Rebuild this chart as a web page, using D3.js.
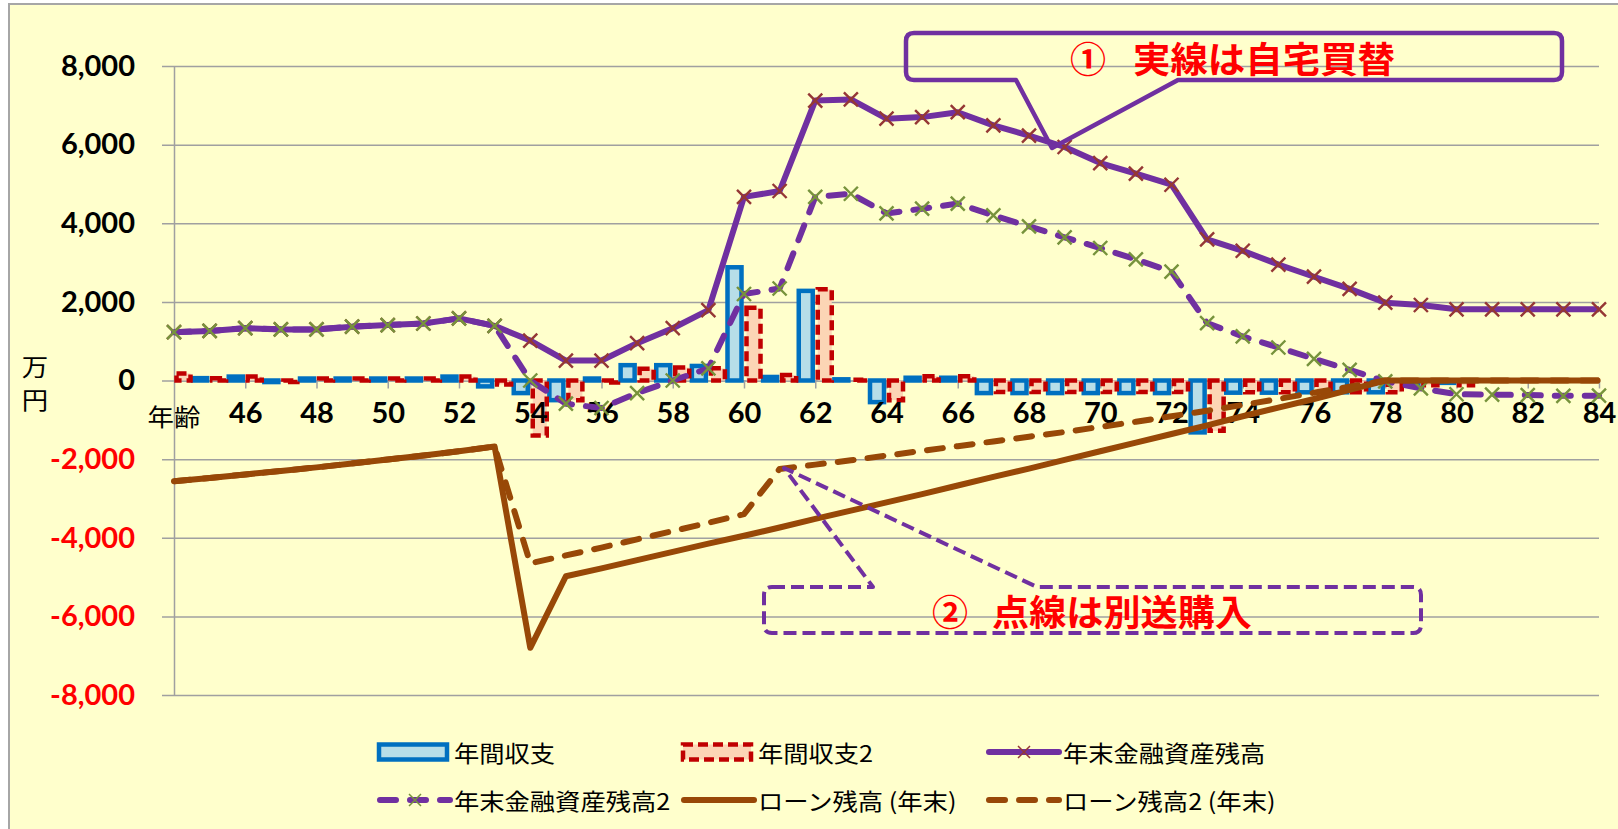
<!DOCTYPE html>
<html>
<head>
<meta charset="utf-8">
<script src="https://cdn.jsdelivr.net/npm/d3@7"></script>
<style>
  html, body { margin: 0; padding: 0; background: #ffffff; }
  svg { display: block; }
</style>
</head>
<body>
<svg id="chart" width="1618" height="829"></svg>
<script>
// ---- data (単位: 万円) ----
const ages = [44, 45, 46, 47, 48, 49, 50, 51, 52, 53,
              54, 55, 56, 57, 58, 59, 60, 61, 62, 63,
              64, 65, 66, 67, 68, 69, 70, 71, 72, 73,
              74, 75, 76, 77, 78, 79, 80, 81, 82, 83, 84];

// 年間収支
const annualBalance = [150, 60, 100, -40, 50, 50, 50, 50, 100, -150,
                       -320, -500, 50, 390, 390, 370, 2880, 90, 2280, 30,
                       -550, 70, 70, -320, -320, -320, -320, -320, -320, -1320,
                       -310, -310, -300, -300, -300, -60, -60, 0, 0, 0, 0];
// 年間収支2
const annualBalance2 = [180, 60, 100, -40, 50, 50, 50, 50, 100, -100,
                        -1400, -500, -50, 300, 330, 310, 1850, 140, 2320, 20,
                        -500, 110, 110, -290, -290, -290, -290, -290, -290, -1280,
                        -300, -300, -300, -300, -300, -120, -120, 0, 0, 0, 0];
// 年末金融資産残高
const assets = [1230, 1260, 1330, 1300, 1300, 1370, 1410, 1450, 1580, 1390,
                1015, 507, 507, 950, 1330, 1790, 4670, 4820, 7120, 7150,
                6660, 6700, 6825, 6490, 6230, 5940, 5530, 5260, 4980, 3590,
                3300, 2950, 2640, 2330, 1980, 1920, 1810, 1810, 1810, 1810, 1810];
// 年末金融資産残高2
const assets2 = [1230, 1260, 1330, 1300, 1300, 1370, 1410, 1450, 1580, 1390,
                 0, -590, -700, -320, 0, 310, 2200, 2340, 4670, 4750,
                 4250, 4370, 4500, 4200, 3920, 3640, 3370, 3080, 2770, 1460,
                 1120, 840, 550, 270, -20, -200, -350, -360, -370, -390, -385];
// ローン残高 (年末)
const loan = [-2560, -2480, -2390, -2300, -2210, -2110, -2010, -1910, -1800, -1680,
              -6800, -4980, -4780, -4570, -4360, -4150, -3950, -3740, -3520, -3310,
              -3100, -2890, -2670, -2450, -2240, -2020, -1800, -1580, -1360, -1140,
              -910, -690, -470, -240, 0, 0, 0, 0, 0, 0, 0];
// ローン残高2 (年末)
const loan2 = [-2560, -2480, -2390, -2300, -2210, -2110, -2010, -1910, -1800, -1680,
               -4650, -4450, -4250, -4040, -3830, -3620, -3400, -2250, -2140, -2030,
               -1910, -1790, -1670, -1550, -1430, -1310, -1180, -1050, -910, -770,
               -620, -470, -310, -160, 0, 0, 0, 0, 0, 0, 0];

const yTicks = [-8000, -6000, -4000, -2000, 0, 2000, 4000, 6000, 8000];
const xTickAges = [46, 48, 50, 52, 54, 56, 58, 60, 62, 64, 66, 68, 70, 72, 74, 76, 78, 80, 82, 84];
const seriesNames = ["年間収支", "年間収支2", "年末金融資産残高", "年末金融資産残高2", "ローン残高 (年末)", "ローン残高2 (年末)"];
const callout1Text = ["①", "実線は自宅買替"];
const callout2Text = ["②", "点線は別送購入"];

// ---- styling ----
const CJK = '"Noto Sans CJK JP", "Noto Sans", sans-serif';
const NUM = 'Lato, "Open Sans", sans-serif';
const SX = 1.1;            // horizontal stretch of the CJK lettering
const PURPLE = "#7030A0", BROWN = "#984807";
const BLUE = "#0070C0", BLUE_FILL = "#B7DEE8";
const RED = "#C00000", RED_FILL = "#FCD5B5";
const MARK1 = "#953735", MARK2 = "#77933C";
const GRID = "#A0A0A0";
const LINE_DASH = "16,14";

const svg = d3.select("#chart");
const W = 1618, H = 829;
const plot = { left: 174, right: 1599, top: 66, bottom: 695 };

const x = d3.scalePoint().domain(ages).range([plot.left, plot.right]);
const y = d3.scaleLinear().domain([-8000, 8000]).range([plot.bottom, plot.top]);

// chart area
svg.append("rect").attr("x", 9).attr("y", 4).attr("width", W + 20).attr("height", H + 20)
  .attr("fill", "#FFFFCC").attr("stroke", "#A6A6A6").attr("stroke-width", 2);

const defs = svg.append("defs");
defs.append("clipPath").attr("id", "plotClip")
  .append("rect").attr("x", plot.left).attr("y", 0)
  .attr("width", plot.right - plot.left).attr("height", H);

function stretchedText(parent, px, py, str, opt) {
  const sx = opt.sx || SX;
  const t = parent.append("text")
    .attr("transform", `translate(${px},${py}) scale(${sx},1)`)
    .attr("text-anchor", opt.anchor || "start")
    .attr("dominant-baseline", "central")
    .attr("font-family", opt.family || CJK)
    .attr("font-size", opt.size)
    .attr("font-weight", opt.weight || 400)
    .attr("fill", opt.fill || "#000")
    .text(str);
  if (opt.fit) {
    t.attr("textLength", opt.fit / sx).attr("lengthAdjust", "spacingAndGlyphs");
  }
  return t;
}

// horizontal gridlines
const grid = svg.append("g").attr("transform", `translate(${plot.left - 12},0)`)
  .call(d3.axisRight(y).tickValues(yTicks).tickSize(plot.right - plot.left + 12).tickFormat(""));
grid.select(".domain").remove();
grid.selectAll("line").attr("stroke", GRID).attr("stroke-width", 1.5);

// value axis
const fmt = d => (d < 0 ? "-" : "") + d3.format(",")(Math.abs(d));
const yAxis = svg.append("g").attr("transform", `translate(${plot.left},0)`)
  .call(d3.axisLeft(y).tickValues(yTicks).tickSize(0).tickSizeOuter(0).tickPadding(39).tickFormat(fmt));
yAxis.select(".domain").attr("stroke", GRID).attr("stroke-width", 1.5);
yAxis.selectAll("text")
  .attr("font-family", NUM).attr("font-size", 29).attr("font-weight", 700)
  .attr("fill", d => d < 0 ? "#FF0000" : "#000000");

// category axis line and tick marks on the zero line
const xAxisLine = svg.append("g").attr("transform", `translate(0,${y(0)})`)
  .call(d3.axisBottom(x).tickValues(xTickAges).tickSize(8).tickSizeOuter(0).tickFormat(""));
xAxisLine.select(".domain").attr("stroke", GRID).attr("stroke-width", 1.5);
xAxisLine.selectAll(".tick line").attr("stroke", GRID).attr("stroke-width", 1.5);

// ---- columns ----
const bars = svg.append("g").attr("clip-path", "url(#plotClip)");
const barW = 14;
function drawBars(values, offset, fill, stroke, dash) {
  bars.append("g").selectAll("rect")
    .data(ages.map((a, i) => ({ a, v: values[i] })).filter(d => d.v !== 0))
    .join("rect")
    .attr("x", d => x(d.a) + offset)
    .attr("y", d => Math.min(y(d.v), y(0)))
    .attr("width", barW)
    .attr("height", d => Math.abs(y(d.v) - y(0)))
    .attr("fill", fill)
    .attr("stroke", stroke)
    .attr("stroke-width", 4.5)
    .attr("stroke-dasharray", dash);
}
drawBars(annualBalance, -16.5, BLUE_FILL, BLUE, null);
drawBars(annualBalance2, 2.5, RED_FILL, RED, "10,5");

// category labels above the columns
const xLabels = svg.append("g").attr("transform", `translate(0,${y(0)})`)
  .call(d3.axisBottom(x).tickValues(xTickAges).tickSize(0).tickPadding(22));
xLabels.select(".domain").remove();
xLabels.selectAll("text")
  .attr("font-family", NUM).attr("font-size", 29).attr("font-weight", 700).attr("fill", "#000");

// axis titles
stretchedText(svg, x(44), 416, "年齢", { size: 24, anchor: "middle" });
stretchedText(svg, 35, 366, "万", { size: 24, anchor: "middle" });
stretchedText(svg, 35, 399, "円", { size: 24, anchor: "middle" });

// ---- lines ----
const lineGen = d3.line().x(d => x(d.a)).y(d => y(d.v));
function drawLine(values, color, dash) {
  svg.append("path")
    .datum(ages.map((a, i) => ({ a, v: values[i] })))
    .attr("d", lineGen)
    .attr("fill", "none")
    .attr("stroke", color)
    .attr("stroke-width", 6)
    .attr("stroke-linejoin", "round")
    .attr("stroke-linecap", dash ? "round" : "butt")
    .attr("stroke-dasharray", dash);
}
const crossPath = s => `M${-s},${-s}L${s},${s}M${-s},${s}L${s},${-s}`;
function drawMarkers(values, color) {
  svg.append("g").selectAll("path")
    .data(ages.map((a, i) => ({ a, v: values[i] })))
    .join("path")
    .attr("transform", d => `translate(${x(d.a)},${y(d.v)})`)
    .attr("d", crossPath(7))
    .attr("stroke", color)
    .attr("stroke-width", 2.4)
    .attr("fill", "none");
}
drawLine(assets, PURPLE, null);
drawMarkers(assets, MARK1);
drawLine(assets2, PURPLE, LINE_DASH);
drawMarkers(assets2, MARK2);
drawLine(loan, BROWN, null);
drawLine(loan2, BROWN, LINE_DASH);

// ---- callouts ----
// ① solid callout, wedge pointing at the 69-year value of the solid asset line
svg.append("path")
  .attr("d", "M914,33 H1554 Q1562,33 1562,41 V72 Q1562,80 1554,80 H1178 L1052,148 L1016,80 H914 Q906,80 906,72 V41 Q906,33 914,33 Z")
  .attr("fill", "none").attr("stroke", PURPLE).attr("stroke-width", 4.5).attr("stroke-linejoin", "round");
stretchedText(svg, 1088, 57, callout1Text[0], { size: 36, weight: 700, fill: "#FF0000", anchor: "middle", sx: 1.0 });
stretchedText(svg, 1133, 57, callout1Text[1], { size: 36, weight: 700, fill: "#FF0000", sx: 1.1, fit: 262 });

// ② dashed callout, wedge pointing at the 61-year value of the dashed loan line
svg.append("path")
  .attr("d", "M772,587 H873 L784,468 L1037,587 H1413 Q1421,587 1421,595 V625 Q1421,633 1413,633 H772 Q764,633 764,625 V595 Q764,587 772,587 Z")
  .attr("fill", "none").attr("stroke", PURPLE).attr("stroke-width", 4)
  .attr("stroke-dasharray", "13,6").attr("stroke-linejoin", "round");
stretchedText(svg, 950, 610, callout2Text[0], { size: 36, weight: 700, fill: "#FF0000", anchor: "middle", sx: 1.0 });
stretchedText(svg, 992, 610, callout2Text[1], { size: 36, weight: 700, fill: "#FF0000", sx: 1.1, fit: 260 });

// ---- legend ----
const legendItems = [
  { name: seriesNames[0], col: 0, row: 0, type: "bar", fill: BLUE_FILL, stroke: BLUE, dash: null },
  { name: seriesNames[1], col: 1, row: 0, type: "bar", fill: RED_FILL, stroke: RED, dash: "10,5" },
  { name: seriesNames[2], col: 2, row: 0, type: "line", stroke: PURPLE, dash: null, marker: MARK1 },
  { name: seriesNames[3], col: 0, row: 1, type: "line", stroke: PURPLE, dash: LINE_DASH, marker: MARK2 },
  { name: seriesNames[4], col: 1, row: 1, type: "line", stroke: BROWN, dash: null },
  { name: seriesNames[5], col: 2, row: 1, type: "line", stroke: BROWN, dash: LINE_DASH }
];
const colX = [377, 681, 986];
const rowY = [752, 800];
const legend = svg.append("g");
legendItems.forEach(it => {
  const lx = colX[it.col], ly = rowY[it.row];
  if (it.type === "bar") {
    legend.append("rect").attr("x", lx + 2).attr("y", ly - 7.5).attr("width", 68).attr("height", 15)
      .attr("fill", it.fill).attr("stroke", it.stroke).attr("stroke-width", 4.5)
      .attr("stroke-dasharray", it.dash);
  } else {
    legend.append("line").attr("x1", lx + 3).attr("x2", lx + 73).attr("y1", ly).attr("y2", ly)
      .attr("stroke", it.stroke).attr("stroke-width", 6)
      .attr("stroke-linecap", "round")
      .attr("stroke-dasharray", it.dash);
    if (it.marker) {
      legend.append("path").attr("transform", `translate(${lx + 38},${ly})`)
        .attr("d", crossPath(6)).attr("stroke", it.marker).attr("stroke-width", 1.5).attr("fill", "none");
    }
  }
  stretchedText(legend, lx + 77, ly, it.name, { size: 23 });
});
</script>
</body>
</html>
